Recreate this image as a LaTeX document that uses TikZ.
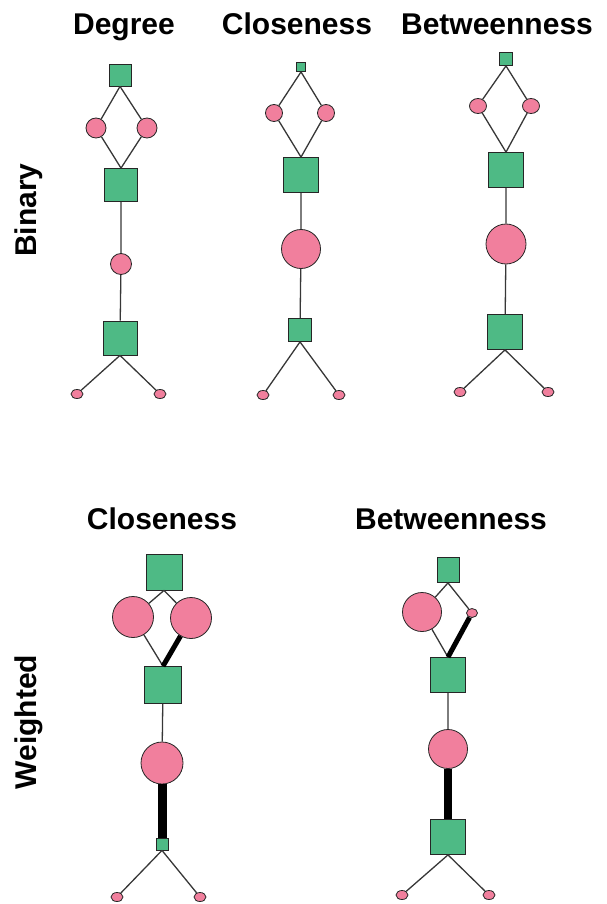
\documentclass[tikz,border=0pt]{standalone}
\usepackage{fontspec}
\setmainfont{Liberation Sans}
\usetikzlibrary{shapes.geometric}

\definecolor{sqgreen}{RGB}{78,186,133}
\definecolor{ptpink}{RGB}{241,127,157}
\definecolor{edgegray}{RGB}{55,55,55}

\tikzset{
  sq/.style={draw=black!85, fill=sqgreen, rectangle, minimum size=#1, inner sep=0pt, line width=0.8pt},
  ci/.style={draw=black!85, fill=ptpink, circle, minimum size=#1, inner sep=0pt, line width=0.8pt},
  el/.style 2 args={draw=black!85, fill=ptpink, ellipse, minimum width=#1, minimum height=#2, inner sep=0pt, line width=0.8pt},
  dot/.style={el={12}{9}},
  lnk/.style={draw=edgegray, line width=1.3pt},
  heavy/.style={draw=black, line width=#1},
  title/.style={font=\fontsize{30}{36}\selectfont\bfseries, anchor=base, inner sep=0pt},
}

\begin{document}
\begin{tikzpicture}[x=1pt, y=-1pt]
\useasboundingbox (0,0) rectangle (606,904);

\node[title] (tdeg) at (124,35) {Degree};
\node[title] (tclo) at (297,35) {Closeness};
\node[title] (tbet) at (497,35) {Betweenness};
\node[title] (twclo) at (162,529) {Closeness};
\node[title] (twbet) at (451,529) {Betweenness};
\node[title, rotate=90] (tbin) at (36,210) {Binary};
\node[title, rotate=90] (twei) at (36,722) {Weighted};

% binary, degree
\node[sq=22] (d1) at (120,75) {};
\node[ci=20] (d2) at (96,128) {};
\node[ci=20] (d3) at (147,128) {};
\node[sq=33] (d4) at (121,185) {};
\node[ci=21] (d5) at (121,264) {};
\node[sq=34] (d6) at (120,338) {};
\node[dot] (d7) at (77,394) {};
\node[dot] (d8) at (160,394) {};
\draw[lnk] (d1.south) -- (d2) (d1.south) -- (d3) (d2) -- (d4.north) (d3) -- (d4.north)
  (d4) -- (d5) (d5) -- (d6) (d6.south) -- (d7) (d6.south) -- (d8);

% binary, closeness
\node[sq=9] (c1) at (301,67) {};
\node[ci=17] (c2) at (274,113) {};
\node[ci=17] (c3) at (326,113) {};
\node[sq=35] (c4) at (301,175) {};
\node[ci=39] (c5) at (301,249) {};
\node[sq=23] (c6) at (300,330) {};
\node[dot] (c7) at (263,395) {};
\node[dot] (c8) at (339,395) {};
\draw[lnk] (c1.south) -- (c2) (c1.south) -- (c3) (c2) -- (c4.north) (c3) -- (c4.north)
  (c4) -- (c5) (c5) -- (c6) (c6.south) -- (c7) (c6.south) -- (c8);

% binary, betweenness
\node[sq=13] (b1) at (506,59) {};
\node[el={17}{15}] (b2) at (478,106) {};
\node[el={17}{15}] (b3) at (531,106) {};
\node[sq=35] (b4) at (506,170) {};
\node[ci=40] (b5) at (506,244) {};
\node[sq=35] (b6) at (505,332) {};
\node[dot] (b7) at (460,392) {};
\node[dot] (b8) at (548,392) {};
\draw[lnk] (b1.south) -- (b2) (b1.south) -- (b3) (b2) -- (b4.north) (b3) -- (b4.north)
  (b4) -- (b5) (b5) -- (b6) (b6.south) -- (b7) (b6.south) -- (b8);

% weighted, closeness
\node[sq=36] (wc1) at (164,572) {};
\node[ci=41] (wc2) at (133,617) {};
\node[ci=41] (wc3) at (191,618) {};
\node[sq=37] (wc4) at (163,685) {};
\node[ci=42] (wc5) at (162,763) {};
\node[sq=12] (wc6) at (162,844) {};
\node[dot] (wc7) at (117,897) {};
\node[dot] (wc8) at (200,897) {};
\draw[lnk] (wc1.south) -- (wc2) (wc1.south) -- (wc3) (wc2) -- (wc4.north)
  (wc4) -- (wc5) (wc6.south) -- (wc7) (wc6.south) -- (wc8);
\draw[heavy=5pt] (wc3) -- (wc4.north);
\draw[heavy=9pt] (wc5) -- (wc6);

% weighted, betweenness
\node[sq=22, minimum height=25] (wb1) at (448,570) {};
\node[ci=39] (wb2) at (422,612) {};
\node[el={11}{9}] (wb3) at (472,613) {};
\node[sq=35] (wb4) at (448,675) {};
\node[ci=39] (wb5) at (448,749) {};
\node[sq=35] (wb6) at (448,837) {};
\node[dot] (wb7) at (402,895) {};
\node[dot] (wb8) at (489,895) {};
\draw[lnk] (wb1.south) -- (wb2) (wb1.south) -- (wb3) (wb2) -- (wb4.north)
  (wb4) -- (wb5) (wb6.south) -- (wb7) (wb6.south) -- (wb8);
\draw[heavy=5pt] (wb3) -- (wb4.north);
\draw[heavy=8pt] (wb5) -- (wb6);

\end{tikzpicture}
\end{document}
